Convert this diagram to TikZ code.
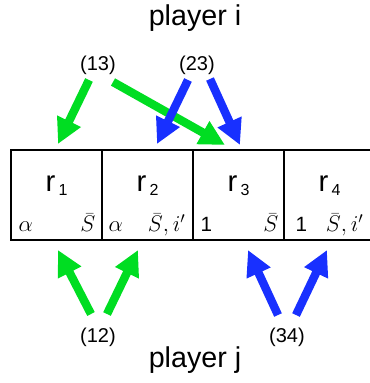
\RequirePackage{fix-cm}
\documentclass[tikz,border=0pt]{standalone}
\usepackage{fontspec}
\setmainfont{Liberation Sans}
\usepackage{tikz}
\usetikzlibrary{
  arrows.meta,%
  calc,%
  positioning
}
\definecolor{arrgreen}{RGB}{0,221,34}
\definecolor{arrblue}{RGB}{24,48,255}
\tikzset{>=latex}
\tikzset{x=0.75pt, y=-0.75pt}
\tikzset{fat/.style={line width=6.3pt, -{Triangle[length=19pt,width=18.5pt]}},
  cell/.style={draw, line width=1.1pt, minimum width=68.25pt,
    minimum height=67.5pt, inner sep=0pt},
  perm/.style={inner sep=0pt, font=\fontsize{15}{18}\selectfont},
  player/.style={inner sep=0pt, font=\fontsize{21.5}{26}\selectfont},
  entry/.style={inner sep=0pt, font=\fontsize{15.5}{18}\selectfont},
  mentry/.style={inner sep=0pt, font=\fontsize{17}{20}\selectfont}}
\newcommand{\rlab}[1]{r\hspace{2.5pt}\raisebox{-3pt}{\fontsize{12}{14}\selectfont #1}}

\begin{document}
\begin{tikzpicture}
          \useasboundingbox (0,0) rectangle (370,383);
          \clip (0,0) rectangle (370,383);
          % the four cells
          \foreach \i/\x in {1/56.5, 2/147.5, 3/238.5, 4/329.5}
            \node[cell] (c\i) at (\x,195) {};
          \foreach \i in {1,...,4}
            \node[anchor=base, inner sep=0pt, font=\fontsize{22}{26}\selectfont]
              (r\i) at ($(c\i.south)+(0,-49)$) {\rlab{\i}};
          % weights and sets
          \node[mentry, anchor=base west] (w1) at ($(c1.south west)+(8,-9)$) {$\alpha$};
          \node[mentry, anchor=base east] (s1) at ($(c1.south east)+(-7,-9)$) {$\bar{S}$};
          \node[mentry, anchor=base west] (w2) at ($(c2.south west)+(7,-9)$) {$\alpha$};
          \node[mentry, anchor=base east] (s2) at ($(c2.south east)+(-8,-9)$) {$\bar{S},i'$};
          \node[entry, anchor=base west] (w3) at ($(c3.south west)+(8,-9)$) {1};
          \node[mentry, anchor=base east] (s3) at ($(c3.south east)+(-6,-9)$) {$\bar{S}$};
          \node[entry, anchor=base west] (w4) at ($(c4.south west)+(12,-9)$) {1};
          \node[mentry, anchor=base east] (s4) at ($(c4.south east)+(-12,-9)$) {$\bar{S},i'$};
          % players and permutations
          \node[player, anchor=base] (pi) at (195,25) {player i};
          \node[player, anchor=base] (pj) at (195,367) {player j};
          \node[perm] (p13) at (98,65) {(13)};
          \node[perm] (p23) at (197,65) {(23)};
          \node[perm] (p12) at (98,337) {(12)};
          \node[perm] (p34) at (287,337) {(34)};
          % arrow ends
          \coordinate (g13a) at (89,80);   \coordinate (g13a') at (58,144);
          \coordinate (g13b) at (113,82);  \coordinate (g13b') at (225,145);
          \coordinate (b23a) at (188,80);  \coordinate (b23a') at (157,144);
          \coordinate (b23b) at (210,79);  \coordinate (b23b') at (240,145);
          \coordinate (g12a) at (91,314);  \coordinate (g12a') at (58,250);
          \coordinate (g12b) at (107,314); \coordinate (g12b') at (138,250);
          \coordinate (b34a) at (278,315); \coordinate (b34a') at (248,250);
          \coordinate (b34b) at (296,315); \coordinate (b34b') at (327,250);
          \foreach \a in {g13a, g13b, g12a, g12b}
            \draw[fat, arrgreen] (\a) -- (\a');
          \foreach \a in {b23a, b23b, b34a, b34b}
            \draw[fat, arrblue] (\a) -- (\a');
        \end{tikzpicture}
\end{document}
